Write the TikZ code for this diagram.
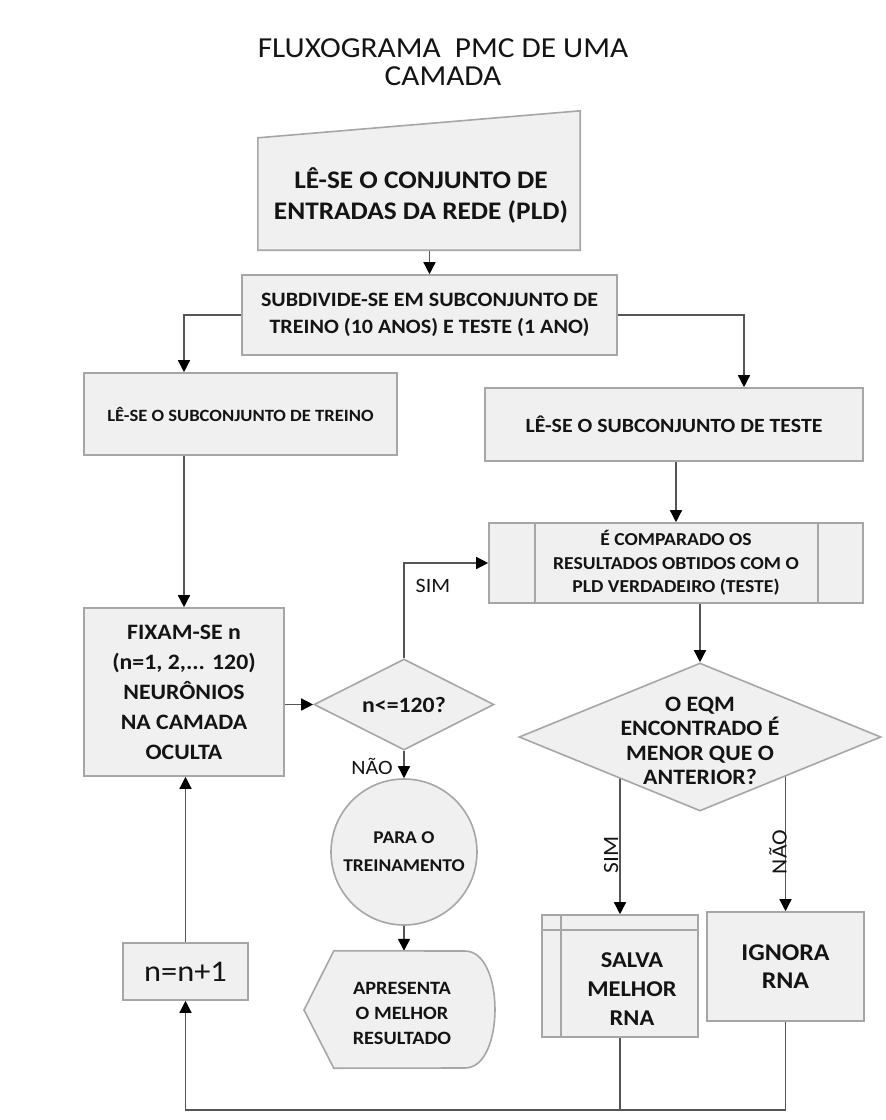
\documentclass[tikz,border=0pt]{standalone}
\usepackage{fontspec}
\setmainfont[FakeStretch=1.08]{Carlito}
\usetikzlibrary{arrows.meta,shapes.geometric,backgrounds}
\definecolor{boxfill}{HTML}{F0F0F0}
\definecolor{boxline}{HTML}{A6A6A6}
\definecolor{conn}{HTML}{555555}
\definecolor{ink}{HTML}{141414}
\tikzset{
  box/.style={rectangle, draw=boxline, fill=boxfill, line width=1.6pt, inner sep=0pt, text=ink, align=center},
  ghost/.style={rectangle, inner sep=0pt, text=ink, align=center},
  outline/.style={draw=boxline, fill=boxfill, line width=1.6pt},
  inner/.style={draw=boxline, line width=1.6pt},
  dia/.style={diamond, draw=boxline, fill=boxfill, line width=1.6pt, inner sep=0pt},
  link/.style={draw=conn, line width=1.4pt},
  arr/.style={link, -{Triangle[length=12pt,width=12pt,color=black]}},
  lbl/.style={text=ink, font=\fontsize{20.4}{24}\selectfont, inner sep=0pt},
  rlbl/.style={text=ink, font=\fontsize{21.8}{24}\selectfont, inner sep=0pt, rotate=90},
}
\begin{document}
\begin{tikzpicture}[x=1pt,y=-1pt]
\useasboundingbox (0,0) rectangle (886,1120);

% title
\node[text=ink, align=center, font=\fontsize{29}{28}\selectfont] (title) at (443,62)
  {FLUXOGRAMA\ \ PMC DE UMA\\CAMADA};

% read full input set (manual input shape)
\node[ghost, minimum width=322pt, minimum height=112pt] (in) at (419,194) {};
\path[outline] (in.south west) -- (in.north west) -- ([yshift=27pt]in.north east)
  -- (in.south east) -- cycle;
\node[ghost, font=\fontsize{25.3}{31}\selectfont\bfseries] (intext) at (421,196)
  {LÊ-SE O CONJUNTO DE\\ENTRADAS DA REDE (PLD)};

% split into training and test sets
\node[box, font=\fontsize{20.4}{27}\selectfont\bfseries, minimum width=375pt, minimum height=80pt] (sub) at (429.5,315)
  {SUBDIVIDE-SE EM SUBCONJUNTO DE\\TREINO (10 ANOS) E TESTE (1 ANO)};

\node[box, font=\fontsize{17.2}{22}\selectfont\bfseries, minimum width=313pt, minimum height=82pt] (trn) at (240.5,414)
  {LÊ-SE O SUBCONJUNTO DE TREINO};
\node[box, font=\fontsize{20.2}{24}\selectfont\bfseries, minimum width=378pt, minimum height=73pt] (tst) at (674,424.5)
  {LÊ-SE O SUBCONJUNTO DE TESTE};

% comparison (predefined process)
\node[box, font=\fontsize{18.2}{23.5}\selectfont\bfseries, minimum width=374pt, minimum height=80pt] (cmp) at (676,563)
  {É COMPARADO OS\\RESULTADOS OBTIDOS COM O\\PLD VERDADEIRO (TESTE)};
\draw[inner] ([xshift=47pt]cmp.north west) -- ([xshift=47pt]cmp.south west);
\draw[inner] ([xshift=-46pt]cmp.north east) -- ([xshift=-46pt]cmp.south east);

% hidden layer size
\node[box, font=\fontsize{22}{30}\selectfont\bfseries, minimum width=200pt, minimum height=168pt] (fix) at (184,692)
  {FIXAM-SE n\\(n=1, 2,... 120)\\NEURÔNIOS\\NA CAMADA\\OCULTA};

% loop test
\node[dia, minimum width=180pt, minimum height=91pt] (d1) at (404,704.5) {};
\node[ghost, font=\fontsize{22}{26}\selectfont\bfseries] (d1t) at (d1) {n<=120?};

\node[circle, draw=boxline, fill=boxfill, line width=1.6pt, inner sep=0pt, minimum size=146pt,
  text=ink, align=center, font=\fontsize{18}{28}\selectfont\bfseries] (stop) at (404,852) {PARA O\\TREINAMENTO};

% display shape
\node[ghost, minimum width=134pt, minimum height=117pt] (show) at (401,1009.5) {};
\path[outline] (304,1010) -- (show.north west) -- (465,951)
  .. controls (505,951) and (505,1068) .. (465,1068) -- (show.south west) -- cycle;
\node[ghost, font=\fontsize{18.8}{25}\selectfont\bfseries] (showt) at (402,1013) {APRESENTA\\O MELHOR\\RESULTADO};

% error comparison
\node[dia, minimum width=362pt, minimum height=148pt] (d2) at (700,737) {};
\node[ghost, font=\fontsize{22}{24.5}\selectfont\bfseries] (d2t) at (700,741)
  {O EQM\\ENCONTRADO É\\MENOR QUE O\\ANTERIOR?};

% save best network (internal storage)
\node[box, minimum width=156pt, minimum height=122pt] (salva) at (620,976) {};
\draw[inner] ([xshift=20pt]salva.north west) -- ([xshift=20pt]salva.south west);
\draw[inner] ([yshift=-16pt]salva.north west) -- ([yshift=-16pt]salva.north east);
\node[ghost, font=\fontsize{22.6}{29}\selectfont\bfseries] (salvat) at (632,989) {SALVA\\MELHOR\\RNA};

\node[box, font=\fontsize{24}{28}\selectfont\bfseries, minimum width=157pt, minimum height=109pt] (ign) at (785.5,966.5) {IGNORA\\RNA};

\node[box, font=\fontsize{30}{30}\selectfont, minimum width=125pt, minimum height=57pt] (inc) at (185.5,971.5) {n=n+1};

\coordinate (bot) at (0,1110);

\begin{pgfonlayer}{background}
\draw[arr] (in.south -| sub.north) -- (sub.north);
\draw[arr] (sub.west) -| (fix.north |- trn.north);
\draw[arr] (sub.east) -| ([xshift=70pt]tst.north);
\draw[arr] (fix.north |- trn.south) -- (fix.north);
\draw[arr] (tst.south -| cmp.north) -- (cmp.north);
\draw[arr] (fix.east |- d1.west) -- (d1.west);
\draw[arr] (d1.north) |- (cmp.west);
\draw[arr] (d1.south) -- (stop.north);
\draw[arr] (stop.south) -- (show.north -| stop.south);
\draw[arr] (d2.north |- cmp.south) -- (d2.north);
\draw[arr] (d2.center -| salva.north) -- (salva.north);
\draw[arr] (d2.center -| ign.north) -- (ign.north);
\draw[link] (ign.south) -- (ign.south |- bot) -- (salva.south |- bot);
\draw[arr] (salva.south) -- (salva.south |- bot) -| (inc.south);
\draw[arr] (inc.north) -- (inc.north |- fix.south);
\end{pgfonlayer}

% branch labels
\node[lbl] (sim1) at (433,586) {SIM};
\node[lbl] (nao1) at (372,766) {NÃO};
\node[rlbl] (sim2) at (611,855) {SIM};
\node[rlbl] (nao2) at (778,852) {NÃO};
\end{tikzpicture}
\end{document}
